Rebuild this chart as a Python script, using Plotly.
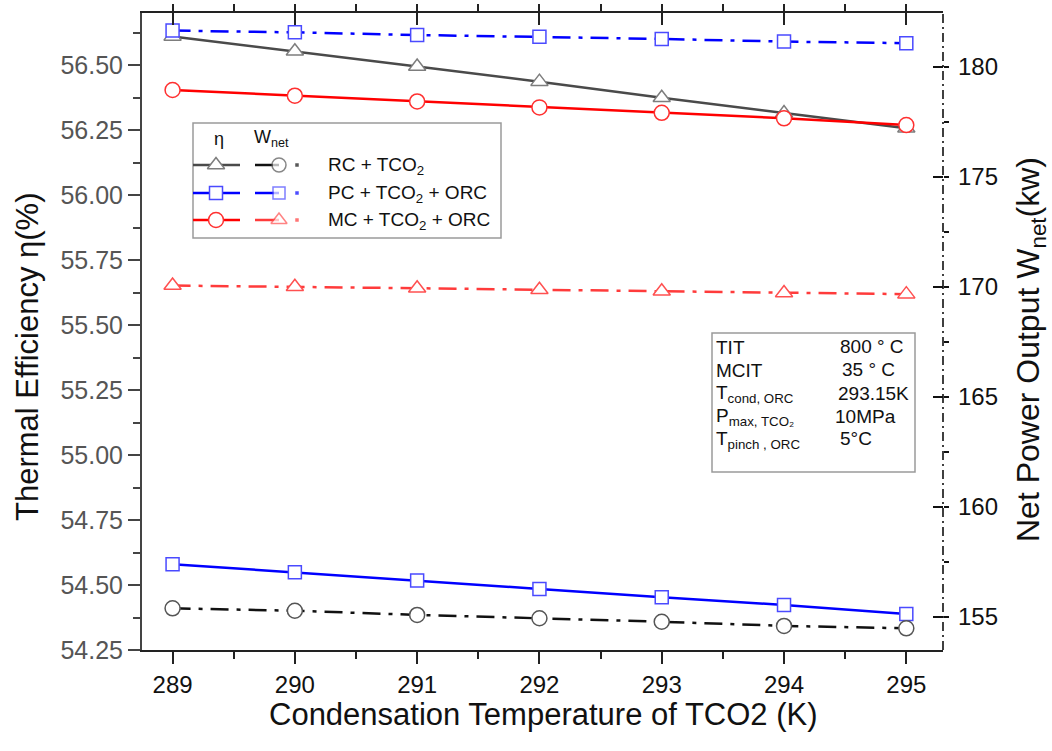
import plotly.graph_objects as go

# Condensation temperature of the transcritical CO2 cycle (K)
temps = [289, 290, 291, 292, 293, 294, 295]

# Thermal efficiency (%) - left axis
eta_rc = [56.610, 56.553, 56.494, 56.436, 56.374, 56.315, 56.257]
eta_pc = [54.580, 54.549, 54.517, 54.485, 54.453, 54.423, 54.388]
eta_mc = [56.404, 56.382, 56.360, 56.337, 56.316, 56.295, 56.269]

# Net power output (kW) - right axis
w_rc = [155.38, 155.27, 155.08, 154.93, 154.77, 154.58, 154.47]
w_pc = [181.64, 181.56, 181.44, 181.36, 181.26, 181.14, 181.07]
w_mc = [170.05, 170.00, 169.93, 169.86, 169.79, 169.71, 169.66]

series_names = ["RC + TCO<sub>2</sub>", "PC + TCO<sub>2</sub> + ORC", "MC + TCO<sub>2</sub> + ORC"]

param_names = ["TIT", "MCIT", "T<sub>cond, ORC</sub>", "P<sub>max, TCO₂</sub>", "T<sub>pinch , ORC</sub>"]
param_values = ["800 ° C", "35 ° C", "293.15K", "10MPa", "5°C"]

W, H = 1052, 751
L, R, T, B = 142, 943, 13, 650
FONT = "Liberation Sans, Arial, sans-serif"

def px(x):
    return (x - L) / (R - L)

def py(y):
    return (B - y) / (B - T)

DASHDOT = "18px,8px,4px,8px"

GRAY, BLUE, RED = "#4a4a4a", "#0000ff", "#ff0000"
RED_W = "#ff3b3b"

fig = go.Figure()

def add_series(y, axis, color, dash, symbol, mcolor, msize):
    fig.add_trace(go.Scatter(
        x=temps, y=y, xaxis="x", yaxis=axis, mode="lines+markers",
        line=dict(color=color, width=2.5, dash=dash),
        marker=dict(symbol=symbol, size=msize, color="white",
                    line=dict(color=mcolor, width=1.5)),
        showlegend=False, hoverinfo="skip"))

add_series(eta_rc, "y", GRAY, "solid", "triangle-up", "#7d7d7d", 15)
add_series(eta_pc, "y", BLUE, "solid", "square", "#4a4aff", 13)
add_series(eta_mc, "y", RED, "solid", "circle", "#ff3030", 15)
add_series(w_rc, "y2", "#111111", DASHDOT, "circle", "#555555", 15)
add_series(w_pc, "y2", BLUE, DASHDOT, "square", "#4a4aff", 13)
add_series(w_mc, "y2", RED_W, DASHDOT, "triangle-up", "#ff5050", 15)

# invisible carrier so the mirrored top axis is drawn
fig.add_trace(go.Scatter(x=temps, y=eta_rc, xaxis="x2", yaxis="y", mode="lines",
                         line=dict(width=0), showlegend=False, hoverinfo="skip"))

# ---- hand-built legend (two samples per row) ----
leg_rows = [165, 193, 220]
eta_styles = [(GRAY, "triangle-up", "#7d7d7d", 15),
              (BLUE, "square", "#4a4aff", 13),
              (RED, "circle", "#ff3030", 15)]
w_styles = [("#111111", "circle", "#555555", 14),
            (BLUE, "square", "#4a4aff", 12),
            (RED_W, "triangle-up", "#ff5050", 14)]
for yr, (c, sym, mc, ms), (wc, wsym, wmc, wms) in zip(leg_rows, eta_styles, w_styles):
    fig.add_trace(go.Scatter(x=[px(193), px(240)], y=[py(yr)] * 2, xaxis="x3", yaxis="y3",
                             mode="lines", line=dict(color=c, width=2.5),
                             showlegend=False, hoverinfo="skip"))
    fig.add_trace(go.Scatter(x=[px(216)], y=[py(yr)], xaxis="x3", yaxis="y3", mode="markers",
                             marker=dict(symbol=sym, size=ms, color="white", line=dict(color=mc, width=1.5)),
                             showlegend=False, hoverinfo="skip"))
    fig.add_trace(go.Scatter(x=[px(255), px(279)], y=[py(yr)] * 2, xaxis="x3", yaxis="y3",
                             mode="lines", line=dict(color=wc, width=2.5),
                             showlegend=False, hoverinfo="skip"))
    fig.add_trace(go.Scatter(x=[px(279), px(297)], y=[py(yr)] * 2, xaxis="x3", yaxis="y3", mode="markers",
                             marker=dict(symbol=[wsym, "square"], size=[wms, 3.5],
                                         color=["white", wc], line=dict(color=[wmc, wc], width=[1.5, 0])),
                             showlegend=False, hoverinfo="skip"))

shapes = [
    # dash-dot right axis line
    dict(type="line", xref="paper", yref="paper", x0=1, x1=1, y0=0, y1=1,
         line=dict(color="#111111", width=1.6, dash="9px,4px,2px,4px")),
    # legend frame
    dict(type="rect", xref="paper", yref="paper", x0=px(193), x1=px(501), y0=py(123), y1=py(238),
         line=dict(color="#9a9a9a", width=1.5), fillcolor="white", layer="below"),
    # parameter box frame
    dict(type="rect", xref="paper", yref="paper", x0=px(712), x1=px(915), y0=py(333), y1=py(472),
         line=dict(color="#9a9a9a", width=1.5), fillcolor="white", layer="below"),
]

annotations = []

def note(text, x, y, size, xanchor="left", color="#111111", angle=0):
    annotations.append(dict(text=text, x=px(x), y=py(y), xref="paper", yref="paper",
                            xanchor=xanchor, yanchor="middle", showarrow=False, textangle=angle,
                            font=dict(family=FONT, size=size, color=color)))

# legend header and labels
note("η", 219, 139, 18, xanchor="center")
note("W<sub>net</sub>", 252, 139, 18)
for yr, name in zip(leg_rows, series_names):
    note(name, 326, yr + 1, 19)

# parameter box text
param_rows = [347, 370, 394, 417, 440]
param_x = [838, 840, 836, 833, 838]
for yr, nm, val, vx in zip(param_rows, param_names, param_values, param_x):
    note(nm, 714, yr, 19)
    note(val, vx, yr - 1, 19)

# axis titles
note("Thermal Efficiency η(%)", 27, 357, 31, xanchor="center", angle=-90)
note("Net Power Output W<sub>net</sub>(kw)", 1030, 350, 32, xanchor="center", angle=-90)
note("Condensation Temperature of TCO2 (K)", 543, 715, 31, xanchor="center")

x_common = dict(range=[288.75, 295.3], dtick=1, tick0=289, showgrid=False, zeroline=False,
                showline=True, linecolor="#222222", linewidth=2,
                tickcolor="#222222", tickwidth=2, ticklen=12,
                minor=dict(dtick=0.5, tick0=289, ticklen=7, tickwidth=2, tickcolor="#222222", showgrid=False))

fig.update_layout(
    width=W, height=H,
    margin=dict(l=L, r=W - R, t=T, b=H - B),
    paper_bgcolor="white", plot_bgcolor="white",
    font=dict(family=FONT),
    xaxis=dict(**x_common, ticks="outside", side="bottom",
               tickfont=dict(family=FONT, size=24, color="#111111")),
    xaxis2=dict(**x_common, ticks="inside", side="top", overlaying="x", anchor="y",
                showticklabels=False),
    xaxis3=dict(range=[0, 1], overlaying="x", visible=False, fixedrange=True),
    yaxis=dict(range=[54.25, 56.70], dtick=0.25, tick0=54.25, tickformat=".2f",
               showgrid=False, zeroline=False, showline=True, linecolor="#444444", linewidth=2,
               ticks="outside", ticklen=12, tickwidth=2, tickcolor="#444444",
               minor=dict(dtick=0.125, tick0=54.25, ticklen=7, tickwidth=2, tickcolor="#444444", showgrid=False),
               tickfont=dict(family=FONT, size=25, color="#555555")),
    yaxis2=dict(range=[153.485, 182.44], dtick=5, tick0=155, overlaying="y", side="right", anchor="x",
                showgrid=False, zeroline=False, showline=False,
                ticks="inside", ticklen=10, tickwidth=1.6, tickcolor="#111111",
                minor=dict(dtick=2.5, tick0=155, ticklen=5, tickwidth=1.6, tickcolor="#111111", showgrid=False),
                ticklabelstandoff=14,
                tickfont=dict(family=FONT, size=24, color="#111111")),
    yaxis3=dict(range=[0, 1], overlaying="y", visible=False, fixedrange=True),
    shapes=shapes,
    annotations=annotations,
)

fig.write_html("out.html")
